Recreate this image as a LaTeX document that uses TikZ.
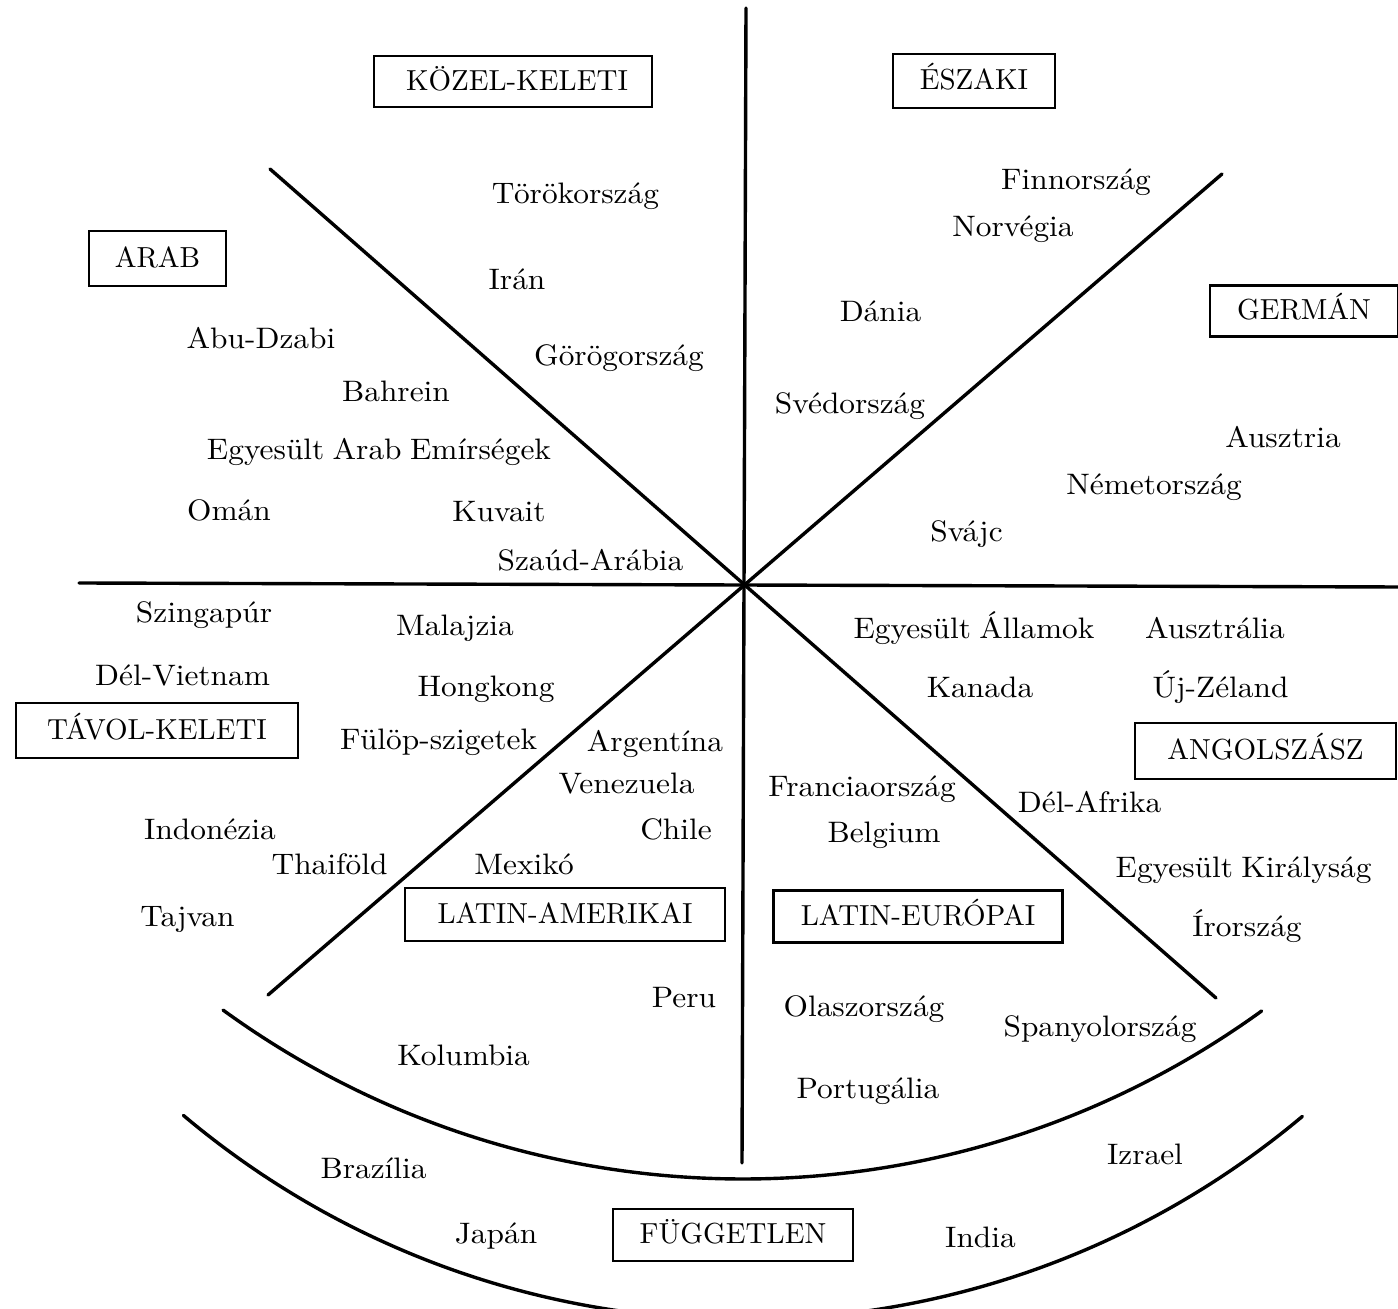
\documentclass[tikz,border=0pt]{standalone}
\usepackage{fontspec}
\setmainfont{lmroman10-regular.otf}
\newfontfamily\cntfont{lmroman10-regular.otf}[FakeStretch=1.06,WordSpace=0.8]
\begin{document}
\begin{tikzpicture}[x=0.5pt,y=-0.5pt,
  lab/.style={inner sep=0pt,text height=0.68em,text depth=0pt,yshift=-1.5pt,font=\cntfont\fontsize{14.8}{18}\selectfont},
  grp/.style={draw,line width=1.1pt,inner sep=0pt,text height=0.88em,text depth=0pt,font=\fontsize{14.5}{17}\selectfont},
  axis/.style={line width=1.7pt,line cap=round}]
\useasboundingbox (0,0) rectangle (1398,1309);
% axes
\coordinate (O) at (745,585);
\coordinate (Vt) at (746,8);
\coordinate (Vb) at (742,1163);
\coordinate (Hl) at (79,583);
\coordinate (Hr) at (1400,587);
\coordinate (Dnw) at (270,169);
\coordinate (Dse) at (1216,998);
\coordinate (Dne) at (1222,174);
\coordinate (Dsw) at (268,995);
\draw[axis] (Vt) -- (Vb);
\draw[axis] (Hl) -- (Hr);
\draw[axis] (Dnw) -- (Dse);
\draw[axis] (Dne) -- (Dsw);
% arcs
\coordinate (A1) at (223.1,1010.1);
\coordinate (A2) at (183.4,1115.4);
\draw[axis] (A1) arc[start angle=126.0,end angle=54.1,radius=884.5];
\draw[axis] (A2) arc[start angle=130.1,end angle=50.0,radius=869.5];
% group boxes
\node[grp,minimum width=139,minimum height=25.5] (kozel) at (513,81.5) {\hspace*{4pt}KÖZEL-KELETI};
\node[grp,minimum width=81,minimum height=27] (eszaki) at (974,81) {ÉSZAKI};
\node[grp,minimum width=68.5,minimum height=27.5] (arab) at (157.5,258.5) {ARAB};
\node[grp,minimum width=94,minimum height=25.5] (german) at (1304,311) {GERMÁN};
\node[grp,minimum width=141,minimum height=27.5] (tavol) at (157,730.5) {TÁVOL-KELETI};
\node[grp,minimum width=130.5,minimum height=28] (angol) at (1265.5,751) {ANGOLSZÁSZ};
\node[grp,minimum width=160,minimum height=26.5] (latam) at (565,914.5) {LATIN-AMERIKAI};
\node[grp,minimum width=144.5,minimum height=26] (lateu) at (918,916.5) {LATIN-EURÓPAI};
\node[grp,minimum width=120,minimum height=26] (fugg) at (733,1235) {FÜGGETLEN};
% countries
\node[lab] (tor) at (575.5,194) {Törökország};
\node[lab] (iran) at (517,280) {Irán};
\node[lab] (gor) at (619,356) {Görögország};
\node[lab] (abu) at (261,339) {Abu-Dzabi};
\node[lab] (bah) at (396,392) {Bahrein};
\node[lab] (eae) at (379,450) {Egyesült Arab Emírségek};
\node[lab] (oman) at (229,511) {Omán};
\node[lab] (kuv) at (499,512) {Kuvait};
\node[lab] (szaud) at (590.5,561) {Szaúd-Arábia};
\node[lab] (finn) at (1076,180) {Finnország};
\node[lab] (norv) at (1013,227) {Norvégia};
\node[lab] (dan) at (880.5,311.5) {Dánia};
\node[lab] (sved) at (850,404) {Svédország};
\node[lab] (ausz) at (1283,438) {Ausztria};
\node[lab] (nemet) at (1154,485) {Németország};
\node[lab] (svajc) at (966.5,532) {Svájc};
\node[lab] (szing) at (204,613) {Szingapúr};
\node[lab] (mal) at (455,626) {Malajzia};
\node[lab] (delv) at (182.6,675.7) {Dél-Vietnam};
\node[lab] (hong) at (486,687) {Hongkong};
\node[lab] (ful) at (438.6,740) {Fülöp-szigetek};
\node[lab] (arg) at (655,741.7) {Argentína};
\node[lab] (ven) at (626.5,783.7) {Venezuela};
\node[lab] (indo) at (210,830) {Indonézia};
\node[lab] (chile) at (676,830) {Chile};
\node[lab] (thai) at (329.6,864.7) {Thaiföld};
\node[lab] (mex) at (524,865) {Mexikó};
\node[lab] (tajv) at (187.5,916.7) {Tajvan};
\node[lab] (usa) at (974,628.7) {Egyesült Államok};
\node[lab] (auszt) at (1215,628.7) {Ausztrália};
\node[lab] (kan) at (980,688) {Kanada};
\node[lab] (ujz) at (1220.5,688) {Új-Zéland};
\node[lab] (fran) at (862,786.7) {Franciaország};
\node[lab] (dela) at (1089.6,803) {Dél-Afrika};
\node[lab] (belg) at (884,832.7) {Belgium};
\node[lab] (uk) at (1243.6,868) {Egyesült Királyság};
\node[lab] (ir) at (1247,927) {Írország};
\node[lab] (peru) at (684,998) {Peru};
\node[lab] (olasz) at (864,1006.7) {Olaszország};
\node[lab] (span) at (1100,1026.7) {Spanyolország};
\node[lab] (kol) at (463.6,1056) {Kolumbia};
\node[lab] (port) at (868,1089) {Portugália};
\node[lab] (izr) at (1145,1155) {Izrael};
\node[lab] (braz) at (373.6,1168.7) {Brazília};
\node[lab] (jap) at (496,1234) {Japán};
\node[lab] (india) at (980.5,1238) {India};
\end{tikzpicture}
\end{document}
